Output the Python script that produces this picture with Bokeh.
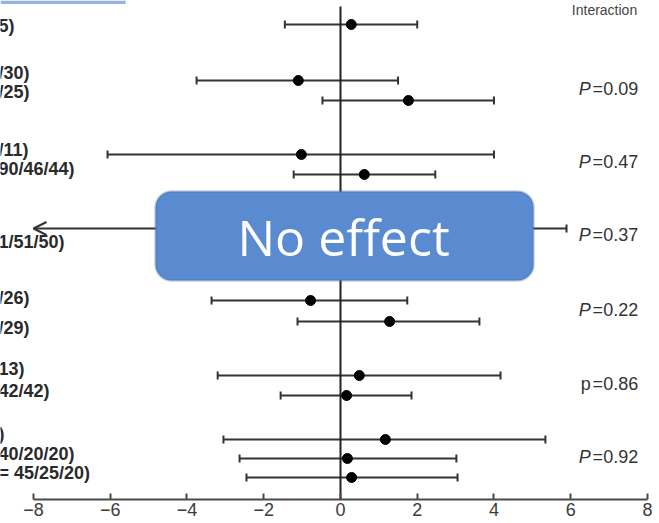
import math
from bokeh.plotting import figure
from bokeh.models import (Range1d, FixedTicker, ColumnDataSource, Whisker, TeeHead,
                          Arrow, OpenHead, BoxAnnotation, Label)
from bokeh.core.properties import value, field
from bokeh.embed import file_html
from bokeh.resources import INLINE

# ---------------- data ----------------
# point estimates and 95% CI per subgroup row (top to bottom)
estimates = [0.28, -1.10, 1.77, -1.02, 0.62, float("nan"), -0.78, 1.28, 0.49, 0.16, 1.17, 0.18, 0.29]
ci_lower = [-1.45, -3.75, -0.47, -6.07, -1.22, -8.0, -3.36, -1.12, -3.20, -1.56, -3.05, -2.63, -2.45]
ci_upper = [2.00, 1.50, 4.00, 4.00, 2.47, 5.89, 1.74, 3.62, 4.17, 1.85, 5.34, 3.02, 3.05]
off_scale_low = [False, False, False, False, False, True, False, False, False, False, False, False, False]

# visible (cropped) subgroup label fragments
label_texts = ["5)", "/30)", "/25)", "/11)", "90/46/44)", "1/51/50)", "/26)", "/29)",
               "13)", "42/42)", ")", "40/20/20)", "= 45/25/20)"]

# interaction p-values
p_letters = ["P", "P", "P", "P", "p", "P"]
p_values = ["0.09", "0.47", "0.37", "0.22", "0.86", "0.92"]

x_ticks = [-8, -6, -4, -2, 0, 2, 4, 6, 8]
x_tick_labels = ["\u22128", "\u22126", "\u22124", "\u22122", "0", "2", "4", "6", "8"]

# ---------------- layout ----------------
row_y = [24, 80, 100, 154, 174, 228, 300, 321, 375, 395, 439, 458, 477]
label_y = [25, 72, 91, 149, 168, 241, 297, 327, 368, 390, 433, 453, 472]
p_y = [88, 161, 234, 309, 383, 456]
p_styles = ["italic" if s == "P" else "normal" for s in p_letters]

X0, X1 = -8.86, 8.313
p = figure(width=659, height=523, x_range=Range1d(X0, X1), y_range=Range1d(499, 0),
           min_border_left=0, min_border_right=0, min_border_top=0, min_border_bottom=24,
           output_backend="svg", toolbar_location=None, y_axis_location=None)
p.outline_line_color = None
p.xgrid.visible = False
p.ygrid.visible = False
p.background_fill_color = "white"
p.border_fill_color = "white"

ax = p.xaxis[0]
ax.bounds = (-8, 8)
ax.ticker = FixedTicker(ticks=x_ticks)
ax.major_label_overrides = {t: l for t, l in zip(x_ticks, x_tick_labels)}
ax.axis_line_color = "#4a4a4a"
ax.axis_line_width = 2
ax.major_tick_line_color = "#4a4a4a"
ax.major_tick_line_width = 2
ax.major_tick_in = 6
ax.major_tick_out = 0
ax.minor_tick_line_color = None
ax.major_label_standoff = 3
ax.major_label_text_font = "Liberation Sans"
ax.major_label_text_font_size = "18px"
ax.major_label_text_color = "#3a3a3a"

# light blue header strip (cropped) at top left
p.quad(left=[X0], right=[-5.6], top=[0], bottom=[3.5], fill_color="#95b3e0",
       line_color=None)

# "Interaction" heading at top right
p.text(x=[6.88], y=[1], text=["Interaction"], text_align="center", text_baseline="top",
       text_font=value("Liberation Sans"), text_font_size="14px", text_color="#444444")

# vertical no-effect line
p.segment(x0=[0], x1=[0], y0=[6], y1=[499], line_color="#222222", line_width=2)

# regular CIs
idx = [i for i in range(len(estimates)) if not off_scale_low[i]]
ci_src = ColumnDataSource(dict(y=[row_y[i] for i in idx],
                               lo=[ci_lower[i] for i in idx],
                               hi=[ci_upper[i] for i in idx]))
wh = Whisker(source=ci_src, base="y", lower="lo", upper="hi", dimension="width",
             line_color="#333333", line_width=2,
             lower_head=TeeHead(size=8, line_color="#333333", line_width=2),
             upper_head=TeeHead(size=8, line_color="#333333", line_width=2))
p.add_layout(wh)

# off-scale CI drawn as arrow
for i in range(len(estimates)):
    if off_scale_low[i]:
        p.add_layout(Arrow(x_start=ci_upper[i], y_start=row_y[i], x_end=ci_lower[i], y_end=row_y[i],
                           line_color="#333333", line_width=2,
                           start=TeeHead(size=8, line_color="#333333", line_width=2),
                           end=OpenHead(size=13, line_color="#333333", line_width=2)))

pt_idx = [i for i in range(len(estimates)) if not math.isnan(estimates[i])]
p.scatter(x=[estimates[i] for i in pt_idx], y=[row_y[i] for i in pt_idx], size=10,
          fill_color="black", line_color="black")

# left labels (cropped fragments)
p.text(x=[X0] * len(label_texts), y=label_y, text=label_texts, text_align="left",
       text_baseline="middle", text_font=value("Liberation Sans"), text_font_size="18px",
       text_font_style="bold", text_color="#2a2a2a", x_offset=-2)

# p-values
psrc = ColumnDataSource(dict(y=p_y, letter=p_letters, style=p_styles,
                             rest=["=" + v for v in p_values]))
p.text(x=6.52, y="y", text="letter", source=psrc, text_align="right", text_baseline="middle",
       text_font=value("Liberation Sans"), text_font_size="18px",
       text_font_style=field("style"), text_color="#333333")
p.text(x=6.57, y="y", text="rest", source=psrc, text_align="left", text_baseline="middle",
       text_font=value("Liberation Sans"), text_font_size="18px", text_color="#333333")

# "No effect" overlay box
box = BoxAnnotation(left=-4.82, right=5.03, top=191, bottom=280, fill_color="#5a8bd1",
                    fill_alpha=1.0, line_color="#3b63a0", line_width=2.5, border_radius=16)
p.add_layout(box)
p.add_layout(Label(x=0.08, y=236, text="No effect", text_align="center", text_baseline="middle",
                   text_font="Open Sans", text_font_size="50px", text_color="white"))

open("out.html", "w").write(file_html(p, INLINE))
